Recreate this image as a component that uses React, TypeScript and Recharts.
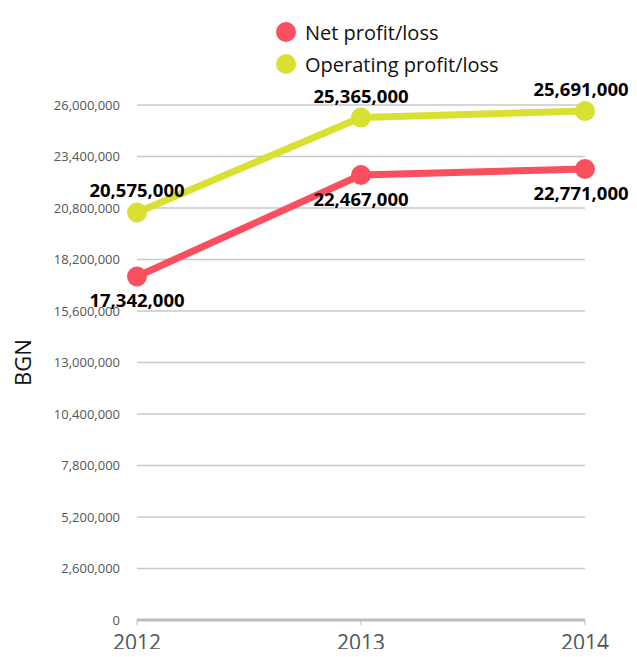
import { LineChart, Line, XAxis, YAxis, CartesianGrid, LabelList } from "recharts";

const years = ["2012", "2013", "2014"];
const netProfit = [17342000, 22467000, 22771000];
const operatingProfit = [20575000, 25365000, 25691000];
const yTicks = [0, 2600000, 5200000, 7800000, 10400000, 13000000, 15600000, 18200000, 20800000, 23400000, 26000000];

const series = [
  { key: "net", name: "Net profit/loss", color: "#fa4f5f", labelPos: "bottom" },
  { key: "operating", name: "Operating profit/loss", color: "#d8e032", labelPos: "top" },
];

const FONT = "'Open Sans', sans-serif";

const fmt = (v: number) => v.toLocaleString("en-US");

// value label above or below a point, pulled in a little at the right edge
const makeLabel = (pos: string) => (props: any) => {
  const { x, y, value, index } = props;
  const last = index === years.length - 1;
  const ty = pos === "top" ? y - 15 : y + 15;
  return (
    <text
      x={x + (last ? -4 : 0)}
      y={ty}
      textAnchor="middle"
      dominantBaseline={pos === "top" ? "auto" : "hanging"}
      style={{ fontSize: 18.5, fontWeight: 700, fill: "#000", fontFamily: FONT }}
    >
      {fmt(Number(value))}
    </text>
  );
};

const App = () => {
  const data = years.map((year, i) => ({
    year,
    net: netProfit[i],
    operating: operatingProfit[i],
  }));

  return (
    <div style={{ position: "relative", width: 621, height: 641, fontFamily: FONT }}>
      <LineChart
        width={629}
        height={649}
        data={data}
        margin={{ top: 97, right: 52, bottom: 0, left: 0 }}
        style={{ overflow: "visible" }}
      >
        <CartesianGrid vertical={false} stroke="#c8c8c8" strokeWidth={1.5} />
        <XAxis
          dataKey="year"
          padding={{ left: 0, right: 0 }}
          height={37}
          axisLine={{ stroke: "#bdbdbd", strokeWidth: 3 }}
          tickLine={{ stroke: "#bdbdbd" }}
          tickSize={5}
          tickMargin={10}
          tick={{ fill: "#555", fontSize: 21, fontFamily: FONT }}
        />
        <YAxis
          width={129}
          domain={[0, 26000000]}
          ticks={yTicks}
          interval={0}
          axisLine={false}
          tickLine={false}
          tickSize={0}
          tickMargin={17}
          tickFormatter={fmt}
          tick={{ fill: "#555", fontSize: 13, fontFamily: FONT }}
          label={{
            value: "BGN",
            angle: -90,
            position: "insideLeft",
            offset: 15,
            style: { textAnchor: "middle", fontSize: 22, fill: "#111", fontFamily: FONT },
          }}
        />
        {series.map((s) => (
          <Line
            key={s.key}
            dataKey={s.key}
            name={s.name}
            stroke={s.color}
            strokeWidth={7}
            dot={{ r: 10, fill: s.color, stroke: "none" }}
            activeDot={false}
            isAnimationActive={false}
          >
            <LabelList dataKey={s.key} content={makeLabel(s.labelPos)} />
          </Line>
        ))}
      </LineChart>

      {/* legend */}
      <div style={{ position: "absolute", left: 268, top: 8 }}>
        {series.map((s) => (
          <div key={s.key} style={{ display: "flex", alignItems: "center", height: 32 }}>
            <span
              style={{
                width: 20,
                height: 20,
                borderRadius: 10,
                background: s.color,
                display: "inline-block",
                marginRight: 9,
              }}
            />
            <span style={{ fontSize: 20, color: "#111" }}>{s.name}</span>
          </div>
        ))}
      </div>
    </div>
  );
};

export default App;
